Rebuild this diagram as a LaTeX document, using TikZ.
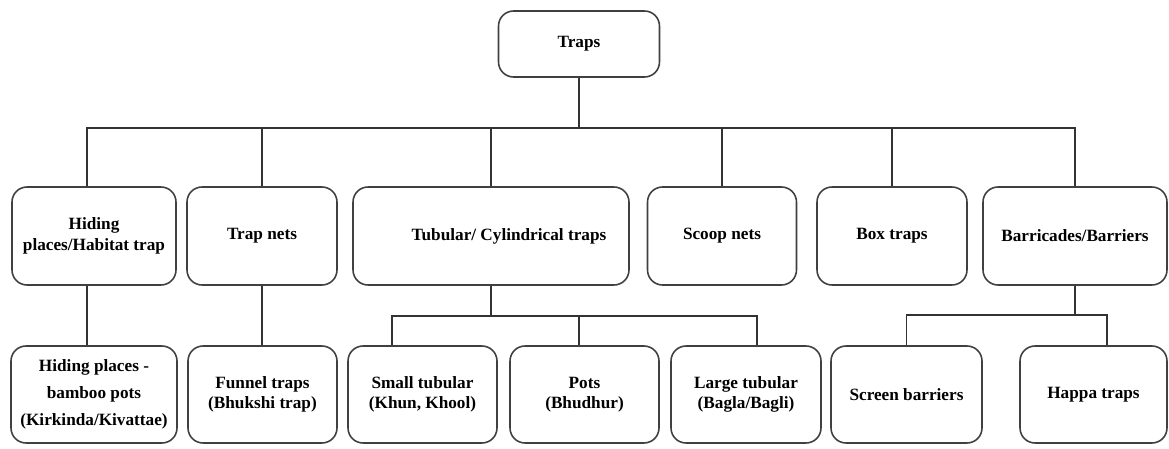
\documentclass[tikz,border=0pt]{standalone}
\usepackage{fontspec}
\setmainfont{Liberation Serif}
\begin{document}
\begin{tikzpicture}[x=0.02cm, y=-0.02cm,
        box/.style={draw=black!75, line width=0.9pt, rounded corners=0.3cm, fill=white,
            align=center, inner sep=2pt, font=\fontsize{9.8}{11.6}\selectfont\bfseries},
        link/.style={draw=black!80, line width=1pt}]
        \useasboundingbox (0,0) rectangle (1169,449);
        % ── raíz ─────────────────────────────────────────────
        \node[box, minimum width=3.22cm, minimum height=1.32cm] (traps) at (579,44) {Traps};
        % ── primer nivel ─────────────────────────────────────
        \begin{scope}[every node/.append style={minimum height=1.96cm}]
            \node[box, minimum width=3.28cm] (hide)  at (94,236)    {Hiding\\places/Habitat trap};
            \node[box, minimum width=3.0cm]  (tnet)  at (262,236)   {Trap nets};
            \node[box, minimum width=5.52cm] (tub)   at (491,236)   {\hspace*{0.72cm}Tubular/ Cylindrical traps};
            \node[box, minimum width=2.98cm] (scoop) at (722,236)   {Scoop nets};
            \node[box, minimum width=3.0cm]  (boxtr) at (892,236)   {Box traps};
            \node[box, minimum width=3.68cm] (barr)  at (1075,236)  {Barricades/Barriers};
        \end{scope}
        % ── segundo nivel ────────────────────────────────────
        \begin{scope}[every node/.append style={minimum height=1.94cm}]
            \node[box, minimum width=3.32cm, font=\fontsize{9.8}{15.2}\selectfont\bfseries] (hpl) at (94,394.5)
                {Hiding places -\\bamboo pots\\(Kirkinda/Kivattae)};
            \node[box, minimum width=2.98cm] (fun)    at (262.5,394.5)  {Funnel traps\\(Bhukshi trap)};
            \node[box, minimum width=2.98cm] (small)  at (422.5,394.5)  {Small tubular\\(Khun, Khool)};
            \node[box, minimum width=2.98cm] (pots)   at (584.5,394.5)  {Pots\\(Bhudhur)};
            \node[box, minimum width=3.0cm]  (large)  at (746,394.5)    {Large tubular\\(Bagla/Bagli)};
            \node[box, minimum width=3.02cm] (screen) at (906.5,394.5)  {Screen barriers};
            \node[box, minimum width=2.94cm] (happa)  at (1093.5,394.5) {Happa traps};
        \end{scope}
        % barra principal
        \coordinate (bus) at (0,128);
        \coordinate (hidein) at ([xshift=-0.14cm]hide.north);
        \draw[link] (traps.south) -- (traps.south |- bus);
        \draw[link] (hidein) |- (barr.north |- bus) -- (barr.north);
        \foreach \n in {tnet, tub, scoop, boxtr} {
            \draw[link] (\n.north) -- (\n.north |- bus);
        }
        % ramas simples
        \coordinate (hideout) at ([xshift=-0.14cm]hide.south);
        \draw[link] (hideout) -- (hideout |- hpl.north);
        \draw[link] (tnet.south) -- (tnet.south |- fun.north);
        % tubulares
        \coordinate (tbus) at (0,316);
        \coordinate (smallin) at ([xshift=-0.61cm]small.north);
        \coordinate (potsin) at ([xshift=-0.11cm]pots.north);
        \coordinate (largein) at ([xshift=0.22cm]large.north);
        \draw[link] (tub.south) -- (tub.south |- tbus);
        \draw[link] (smallin) |- (largein |- tbus) -- (largein);
        \draw[link] (potsin) -- (potsin |- tbus);
        % barreras
        \coordinate (bbus) at (0,315);
        \coordinate (happain) at ([xshift=0.27cm]happa.north);
        \draw[link] (barr.south) -- (barr.south |- bbus);
        \draw[link] (screen.north) |- (happain |- bbus) -- (happain);
    \end{tikzpicture}
\end{document}
